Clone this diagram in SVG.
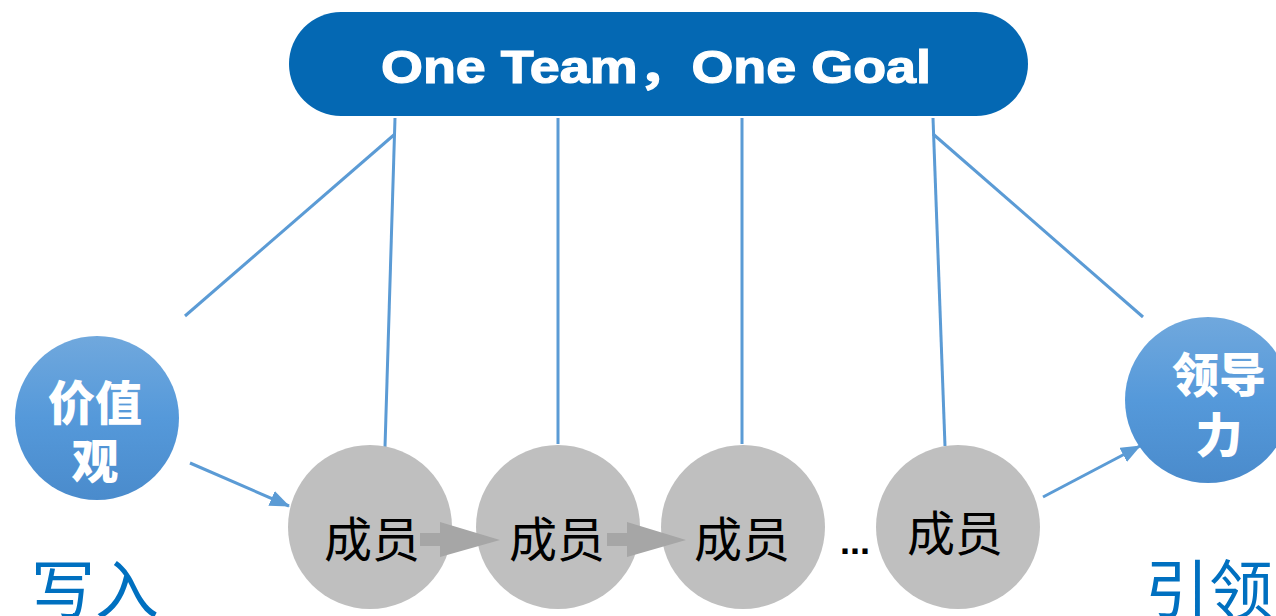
<svg xmlns="http://www.w3.org/2000/svg" width="1276" height="616" viewBox="0 0 1276 616">
<defs>
<linearGradient id="blueGrad" x1="0" y1="0" x2="0" y2="1">
<stop offset="0" stop-color="#70a8dd"/>
<stop offset="0.5" stop-color="#5599da"/>
<stop offset="1" stop-color="#4a8bcc"/>
</linearGradient>
<marker id="ahBig" viewBox="0 0 20 16" refX="19" refY="8" markerWidth="20" markerHeight="16" orient="auto" markerUnits="userSpaceOnUse">
<path d="M0,0 L20,8 L0,16 Z" fill="#5b9bd5"/>
</marker>
</defs>
<style>
.conn{stroke:#5b9bd5;stroke-width:3;fill:none}
.member{fill:#bfbfbf}
.memtxt{font-family:"Noto Sans CJK SC","Noto Sans",sans-serif;font-size:48px;fill:#000;text-anchor:middle}
.bluetxt{font-family:"Noto Sans CJK SC","Noto Sans",sans-serif;font-size:47px;font-weight:900;fill:#fff;text-anchor:middle}
.side{font-family:"Noto Sans CJK SC","Noto Sans",sans-serif;font-size:64px;fill:#0070c0}
.garrow{fill:#a6a6a6}
</style>
<rect width="1276" height="616" fill="#ffffff"/>
<g id="connectors">
<line class="conn" x1="395" y1="118" x2="385" y2="447"/>
<line class="conn" x1="395" y1="134" x2="185" y2="316"/>
<line class="conn" x1="558" y1="118" x2="558" y2="444"/>
<line class="conn" x1="742" y1="118" x2="742" y2="444"/>
<line class="conn" x1="933" y1="118" x2="945" y2="446"/>
<line class="conn" x1="933" y1="134" x2="1143" y2="317"/>
<line class="conn" x1="190" y1="463" x2="289" y2="506" marker-end="url(#ahBig)"/>
<line class="conn" x1="1043" y1="497" x2="1140" y2="446" marker-end="url(#ahBig)"/>
</g>
<g id="goal">
<rect x="289" y="12" width="739" height="104" rx="52" ry="52" fill="#0468b3"/>
<text x="656" y="83" font-family="'Liberation Sans',Arial,'Noto Sans CJK SC',sans-serif" font-size="46" font-weight="bold" fill="#fff" text-anchor="middle" textLength="550" lengthAdjust="spacingAndGlyphs" stroke="#fff" stroke-width="1.2">One Team，One Goal</text>
</g>
<g id="values">
<circle cx="97" cy="418" r="82" fill="url(#blueGrad)"/>
<text class="bluetxt" x="95" y="420">价值</text>
<text class="bluetxt" x="95" y="478">观</text>
</g>
<g id="leadership">
<circle cx="1208" cy="400" r="83" fill="url(#blueGrad)"/>
<text class="bluetxt" x="1219" y="392">领导</text>
<text class="bluetxt" x="1219" y="452">力</text>
</g>
<g id="member1">
<circle class="member" cx="370" cy="527" r="82"/>
<text class="memtxt" x="372" y="557">成员</text>
</g>
<g id="member2">
<circle class="member" cx="558" cy="527" r="82"/>
<text class="memtxt" x="557" y="557">成员</text>
</g>
<g id="member3">
<circle class="member" cx="743" cy="527" r="82"/>
<text class="memtxt" x="742" y="557">成员</text>
</g>
<g id="member4">
<circle class="member" cx="958" cy="527" r="82"/>
<text class="memtxt" x="955" y="551">成员</text>
</g>
<g id="flow-arrows">
<path class="garrow" d="M420,533 L440,533 L440,522 L500,540 L440,557 L440,546 L420,546 Z"/>
<path class="garrow" d="M607,533 L627,533 L627,522 L686,540 L627,557 L627,546 L607,546 Z"/>
</g>
<text x="855" y="554" font-family="'Liberation Sans',Arial,sans-serif" font-size="36" font-weight="bold" fill="#000" text-anchor="middle">...</text>
<text class="side" x="31" y="613">写入</text>
<text class="side" x="1145" y="613">引领</text>
</svg>
